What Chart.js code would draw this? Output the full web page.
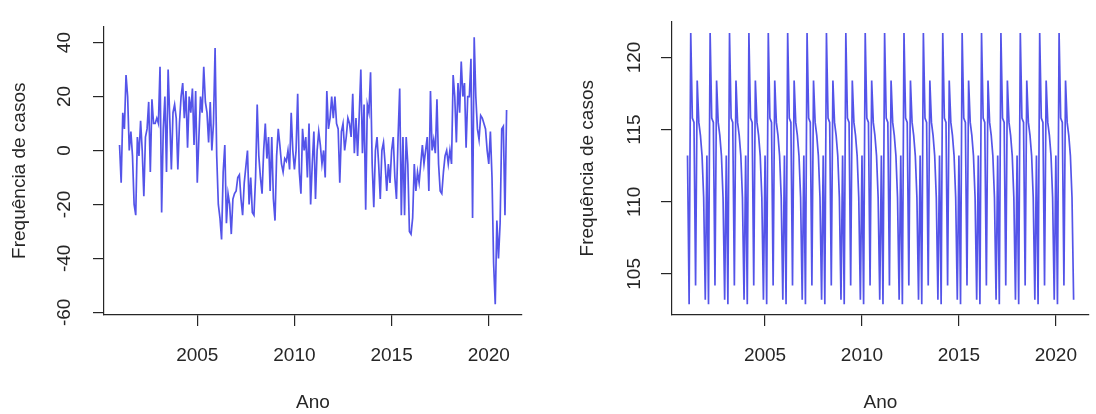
<!DOCTYPE html>
<html>
<head>
<meta charset="utf-8">
<script src="https://cdn.jsdelivr.net/npm/chart.js@4.4.1/dist/chart.umd.min.js"></script>
<style>
  body { margin: 0; background: #fff; }
  .painel { position: absolute; top: 0; width: 548px; height: 414px; }
</style>
</head>
<body>
<div class="painel" style="left:0"><canvas id="residuo" width="548" height="414"></canvas></div>
<div class="painel" style="left:548px"><canvas id="sazonal" width="548" height="414"></canvas></div>
<script>
// anos da serie mensal (jan/2001 a dez/2020)
const anos = [2001, 2002, 2003, 2004, 2005, 2006, 2007, 2008, 2009, 2010,
              2011, 2012, 2013, 2014, 2015, 2016, 2017, 2018, 2019, 2020];

// componente irregular, 12 meses por linha
const residuo = [
   2, -12,  14,   8,  28,  20,   0,   7,  -2, -20, -24,   5,
  -2,  11,   0, -17,   5,   8,  18,  -8,  19,  10,  10,  12,
  10,  31, -23,   8,  20,  -8,  30,  12,  -7,  14,  17,  12,
  -7,  10,  20,  25,  12,  22,   1,  20,  14,  23,   2,  22,
 -12,   5,  20,  14,  31,  18,  14,   3,  18,   0,  10,  38,
  -2, -20, -25, -33,  -8,   2, -27, -16, -20, -31, -18, -16,
 -15, -10,  -9, -18, -24, -12,  -6,   0, -20, -10, -23, -24,
 -10,  17,  -2, -10, -16,   0,  10,  -3,   5, -15,   5, -18,
 -26,  -2,   8,   2,  -5,  -8,  -3,  -4,   0,  -7,  14,   0,
  -7,   0,  21,  -8, -16,   8,   0,   5, -10,  10, -20,  -5,
   7, -18,   0,   7,   2,  -5,   0, -10,  22,   8,  12,  20,
  12,  20,  10,   8, -12,   7,  10,   0,   5,  12,  10,   5,
  21,  -1,  12,  -2,  13,  30,  -1,  17, -22,  17,  14,  29,
  -5, -21,   0,   5,  -5, -18,   0,   3,  -5, -15,  -5, -12,
   0,   5, -10, -18,   5,  23, -24,   5, -24,   5,  -5, -30,
 -31, -25,  -5, -15,  -8, -12,  -5,   2,  -5,   0,   5, -15,
  22,   0,   4,  -1,  19,  -5, -15, -16,  -8,  -2,   0,  -5,
   0,  -5,  28,  20,   3,  25,  14,  33,  20,  25,   1,  20,
  20,  34, -25,  42,  20,   8,   4,  13,  12,  10,   8,   0,
  -5,   7, -10, -42, -57, -26, -40, -27,   8,   9, -24,  15
];

// componente sazonal: um valor por mes, igual em todos os anos
const sazonalMes = [113.2, 102.9, 121.7, 115.8, 115.5, 104.2, 118.4, 115.5, 114.6, 113.2, 110.3, 103.2];

const ticksAno = [2005, 2010, 2015, 2020];
const ticksResiduo = [-60, -40, -20, 0, 20, 40];
const ticksSazonal = [105, 110, 115, 120];

const fonte = "'Liberation Sans', Arial, sans-serif";
const preto = '#262626';
const azul = 'rgba(60, 60, 230, 0.88)';

const sazonal = [];
anos.forEach(() => sazonalMes.forEach(v => sazonal.push(v)));

function grafico(id, valores, cfg) {
    const pontos = valores.map((v, i) => ({ x: anos[Math.floor(i / 12)] + (i % 12) / 12, y: v }));
    const eixo = {
        grid: { drawOnChartArea: false, drawTicks: true, tickLength: 11, color: preto, lineWidth: 1.2 },
        border: { display: true, color: preto, width: 1.2 }
    };
    return new Chart(document.getElementById(id), {
        type: 'line',
        data: {
            datasets: [{
                data: pontos,
                borderColor: azul,
                borderWidth: 1.7,
                pointRadius: 0,
                tension: 0,
                fill: false
            }]
        },
        options: {
            responsive: false,
            devicePixelRatio: 1,
            animation: false,
            layout: { padding: cfg.padding },
            plugins: { legend: { display: false }, tooltip: { enabled: false } },
            scales: {
                x: {
                    ...eixo,
                    type: 'linear',
                    min: 2000.2,
                    max: 2021.71,
                    afterBuildTicks: s => { s.ticks = ticksAno.map(v => ({ value: v })); },
                    afterFit: s => { s.height = 99; },
                    ticks: {
                        padding: 18, color: preto, autoSkip: false, maxRotation: 0,
                        font: { family: fonte, size: 19 },
                        callback: v => String(v)
                    },
                    title: {
                        display: true, text: 'Ano', color: preto,
                        font: { family: fonte, size: 19 },
                        padding: { top: 0, bottom: 0 }
                    }
                },
                y: {
                    ...eixo,
                    type: 'linear',
                    min: cfg.yMin,
                    max: cfg.yMax,
                    afterBuildTicks: s => { s.ticks = cfg.yTicks.map(v => ({ value: v })); },
                    afterFit: s => { s.width = cfg.yWidth; },
                    ticks: {
                        padding: cfg.yPad, crossAlign: 'center', minRotation: 90, maxRotation: 90,
                        color: preto, autoSkip: false,
                        font: { family: fonte, size: 19 },
                        callback: v => String(v)
                    },
                    title: {
                        display: true, text: 'Frequência de casos', color: preto,
                        font: { family: fonte, size: 19 },
                        padding: { top: cfg.titlePad, bottom: 0 }
                    }
                }
            }
        }
    });
}

grafico('residuo', residuo, {
    padding: { left: 0, top: 11, right: 26, bottom: 0 },
    yMin: -61, yMax: 46, yTicks: ticksResiduo,
    yWidth: 104, yPad: 15, titlePad: 8
});

grafico('sazonal', sazonal, {
    padding: { left: 0, top: 9, right: 7, bottom: 0 },
    yMin: 102.15, yMax: 122.5, yTicks: ticksSazonal,
    yWidth: 124, yPad: 10, titlePad: 28
});
</script>
</body>
</html>
